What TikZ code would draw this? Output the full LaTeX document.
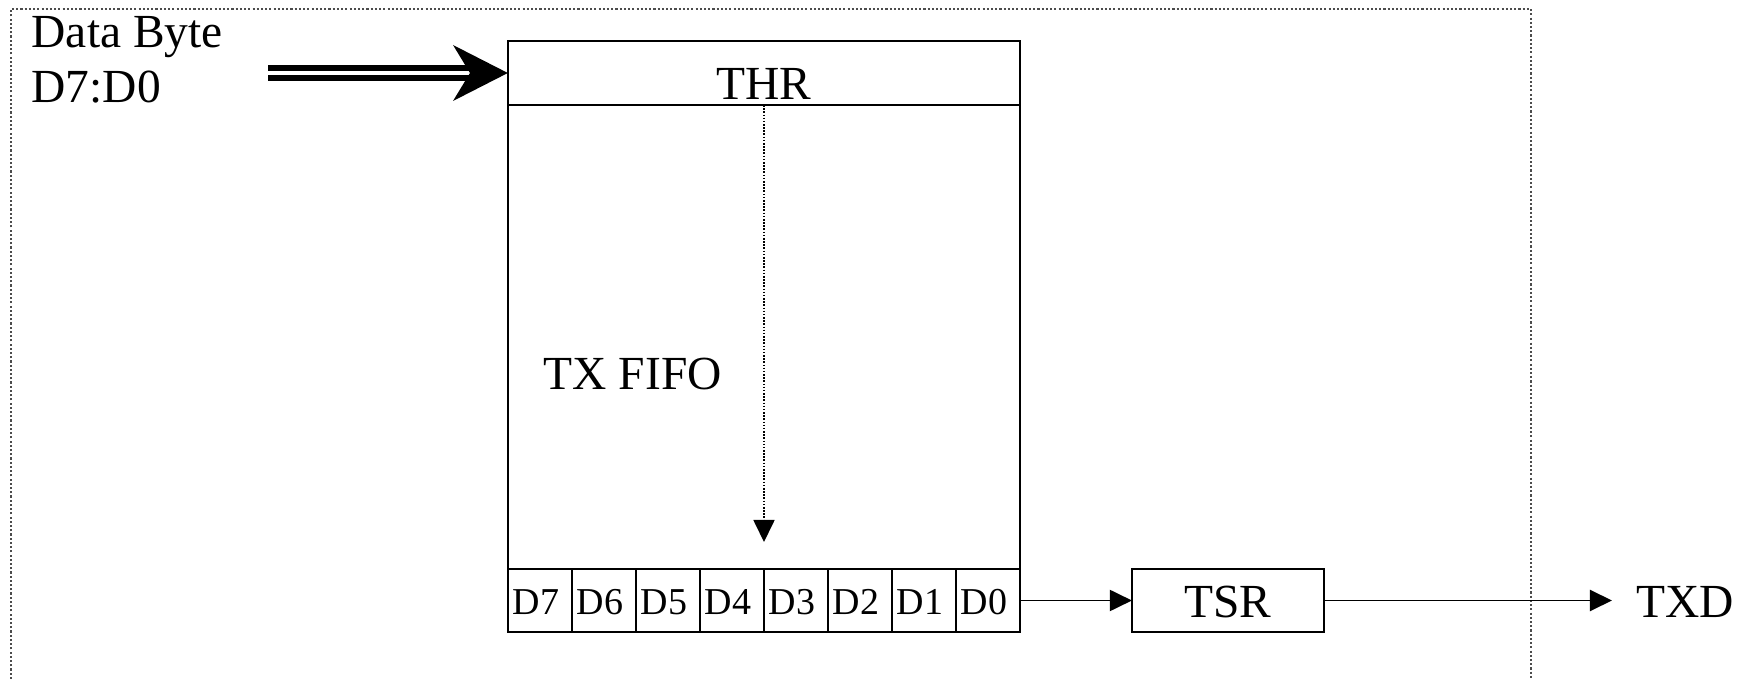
\documentclass[tikz,border=0pt]{standalone}
\usepackage{fontspec}
\setmainfont{Liberation Serif}
\usetikzlibrary{arrows.meta}
\begin{document}
\begin{tikzpicture}[x=0.01cm,y=-0.01cm,
  box/.style={draw, line width=0.65pt, inner sep=0, outer sep=0},
  cell/.style={box, minimum width=0.64cm, minimum height=0.63cm},
  lbl/.style={inner sep=0, font=\fontsize{13.5pt}{16pt}\selectfont},
  celltxt/.style={inner sep=0, anchor=base west, font=\fontsize{10.8pt}{13pt}\selectfont},
  flow/.style={line width=0.55pt, -{Triangle[length=0.22cm,width=0.21cm]}},
  queue/.style={line width=0.5pt, dash pattern=on 0.45pt off 0.45pt, -{Triangle[length=0.22cm,width=0.21cm]}},
  frame/.style={black!70, line width=0.45pt, dash pattern=on 0.6pt off 0.6pt},
]
\useasboundingbox (0,0) rectangle (1756,679);
\fill[white] (0,0) rectangle (1756,679);

% dotted outline of the UART block, open at the bottom
\draw[frame] (11,679) -- (11,9) -- (1531,9) -- (1531,679);

% incoming byte
\node[lbl, anchor=base west] (dbyte) at (31,48) {Data Byte};
\node[lbl, anchor=base west] (dbits) at (31,103) {D7:D0};

% holding register and FIFO
\node[box, minimum width=5.12cm, minimum height=0.64cm] (thr) at (764,73) {};
\node[lbl, anchor=base] (thrtxt) at (764,100) {THR};
\node[box, minimum width=5.12cm, minimum height=4.64cm] (fifo) at (764,337) {};
\node[lbl, anchor=base west] (fifotxt) at (543,390) {TX FIFO};

% bit cells of the FIFO output word
\foreach \i in {0,...,7}{
  \pgfmathtruncatemacro{\bit}{7-\i}
  \node[cell] (d\bit) at ({540+64*\i},600.5) {};
  \node[celltxt] (t\bit) at ({512+64*\i},615) {D\bit};
}

% shift register and serial output
\node[box, minimum width=1.92cm, minimum height=0.63cm] (tsr) at (1228,600.5) {};
\node[lbl, anchor=base] (tsrtxt) at (1228,617) {TSR};
\node[lbl, anchor=base west] (txd) at (1636,617) {TXD};
\coordinate (txdin) at (1612,600.5);

% double (bus) arrow into THR
\coordinate (dbin) at (268,73);
\coordinate (dbnotch) at (470,73);
\draw[line width=0.055cm, double distance=0.045cm] (dbin) -- (dbnotch);
\fill (thr.west) -- (453,45) -- (dbnotch) -- (453,101) -- cycle;

% data flow
\coordinate (fifoend) at (764,542);
\draw[queue] (thr.south) -- (fifoend);
\draw[flow] (d0.east) -- (tsr.west);
\draw[flow] (tsr.east) -- (txdin);
\end{tikzpicture}
\end{document}
